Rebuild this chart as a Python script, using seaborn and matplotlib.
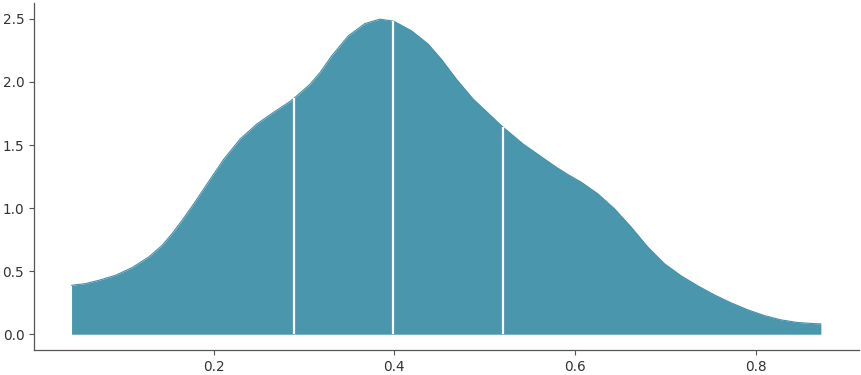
import numpy as np
import pandas as pd
import seaborn as sns
import matplotlib
matplotlib.use("Agg")
import matplotlib.pyplot as plt

# Density curve (x value, density)
x_vals = [0.0428, 0.0582, 0.0729, 0.0914, 0.1098, 0.1282, 0.1430, 0.1540, 0.1651,
          0.1743, 0.1798, 0.1927, 0.2110, 0.2295, 0.2480, 0.2663, 0.2848, 0.2914,
          0.3069, 0.3179, 0.3308, 0.3492, 0.3676, 0.3842, 0.3971, 0.3997, 0.4192,
          0.4376, 0.4527, 0.4690, 0.4873, 0.5058, 0.5187, 0.5212, 0.5425, 0.5610,
          0.5794, 0.5941, 0.6071, 0.6254, 0.6439, 0.6623, 0.6807, 0.6991, 0.7176,
          0.7359, 0.7544, 0.7728, 0.7912, 0.8096, 0.8280, 0.8464, 0.8648, 0.8723]
density = [0.388, 0.401, 0.427, 0.467, 0.528, 0.612, 0.704, 0.797, 0.902,
           0.995, 1.052, 1.190, 1.385, 1.548, 1.667, 1.759, 1.846, 1.885,
           1.983, 2.075, 2.207, 2.366, 2.463, 2.498, 2.484, 2.481, 2.405,
           2.300, 2.175, 2.020, 1.865, 1.740, 1.653, 1.637, 1.509, 1.416,
           1.324, 1.258, 1.205, 1.113, 0.994, 0.849, 0.691, 0.559, 0.463,
           0.384, 0.312, 0.249, 0.194, 0.148, 0.114, 0.093, 0.084, 0.082]
quartiles = [0.289, 0.3985, 0.520]

fill_color = "#4a96ad"

sns.set_style("ticks")
plt.rcParams['font.family'] = ['DejaVu Sans']

fig = plt.figure(figsize=(8.62, 3.75), dpi=100)
ax = fig.add_axes([0.0395, 0.0667, 0.957, 0.925])

df = pd.DataFrame({"x": x_vals, "density": density})
ax.fill_between(df["x"], 0, df["density"], color=fill_color, linewidth=0)
sns.lineplot(data=df, x="x", y="density", ax=ax, color="#4390a8", linewidth=0.8)

q_heights = np.interp(quartiles, x_vals, density)
ax.vlines(quartiles, 0, q_heights, color="white", linewidth=1.6)

ax.set_xlabel("")
ax.set_ylabel("")
ax.set_xticks([0.2, 0.4, 0.6, 0.8])
ax.set_yticks([0.0, 0.5, 1.0, 1.5, 2.0, 2.5])
ax.set_xlim(0.0013, 0.9145)
ax.set_ylim(-0.125, 2.625)
ax.tick_params(labelsize=9.8, colors="#555555", labelcolor="#333333", length=3.5, width=0.8)
for s in ["left", "bottom"]:
    ax.spines[s].set_color("#555555")
    ax.spines[s].set_linewidth(0.9)
sns.despine(ax=ax)

fig.savefig("out.png", dpi=100)
